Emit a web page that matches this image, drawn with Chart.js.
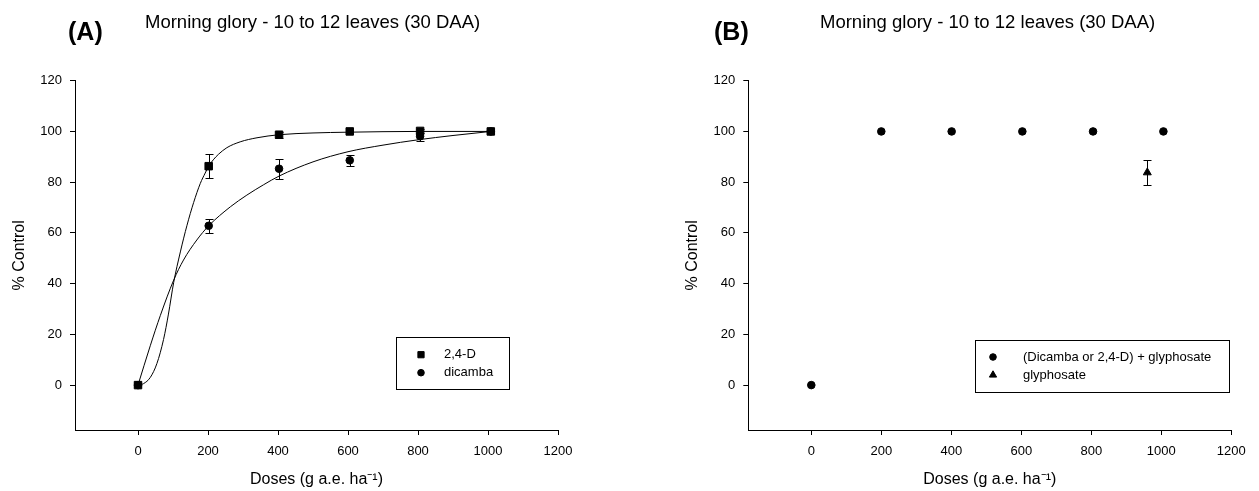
<!DOCTYPE html>
<html><head><meta charset="utf-8">
<script src="https://cdn.jsdelivr.net/npm/chart.js@4.4.1/dist/chart.umd.min.js"></script>
<style>
html,body{margin:0;padding:0;background:#fff;}
#wrap{position:relative;width:1259px;height:491px;overflow:hidden;font-family:'Liberation Sans',Arial,sans-serif;color:#000;}
.cv{position:absolute;top:0;}
.lab{position:absolute;font-weight:bold;font-size:25px;line-height:25px;white-space:nowrap;}
.ttl{position:absolute;font-size:18.5px;line-height:18.5px;white-space:nowrap;}
</style></head>
<body><div id="wrap">
<canvas id="cA" class="cv" width="630" height="491" style="left:0px"></canvas>
<canvas id="cB" class="cv" width="629" height="491" style="left:630px"></canvas>
<div id="labA" class="lab" style="left:68px;top:19.3px"></div>
<div id="ttlA" class="ttl" style="left:145px;top:12.6px"></div>
<div id="labB" class="lab" style="left:714px;top:19.3px"></div>
<div id="ttlB" class="ttl" style="left:820px;top:12.6px"></div>
</div>
<script>
// ---- data ----
const panelLabels = ['(A)', '(B)'];
const panelTitles = ['Morning glory - 10 to 12 leaves (30 DAA)', 'Morning glory - 10 to 12 leaves (30 DAA)'];
const xTitle = 'Doses (g a.e. ha\u207B\u00B9)';
const yTitle = '% Control';
const xTicks = [0, 200, 400, 600, 800, 1000, 1200];
const yTicks = [0, 20, 40, 60, 80, 100, 120];

// Panel A observed means and errors
const doses = [0, 202, 403, 605, 806, 1008];
const d24Mean = [0, 86.3, 98.7, 100, 100.2, 100];
const d24Err = [0, 4.7, 1.1, 0, 0.9, 0];
const dicMean = [0, 62.8, 85.3, 88.6, 98.1, 100];
const dicErr = [0, 2.8, 4.0, 2.3, 1.9, 0];

// Panel A fitted curves
const d24CurveX = [0, 16, 35, 54, 73, 87, 102, 121, 140, 159, 178, 192, 202, 215, 230, 254, 292, 340, 403, 500, 600, 700, 800, 900, 1008];
const d24CurveY = [0, 0.6, 3, 8.5, 18, 28, 40.5, 52.5, 63, 72, 79.5, 83.6, 86.3, 88.8, 91, 93.6, 95.9, 97.5, 98.7, 99.4, 99.7, 99.9, 100, 100, 100];
const dicCurveX = [0, 35, 64, 102, 130, 168, 202, 264, 311, 359, 403, 500, 600, 700, 800, 900, 1008];
const dicCurveY = [0, 15.5, 27.5, 41.4, 49.3, 57.2, 62.8, 70.3, 74.9, 79.0, 82.4, 88.0, 92.0, 94.6, 96.7, 98.4, 100];

// Panel B
const mixDoses = [0, 200, 401, 603, 805, 1006];
const mixMean = [0, 100, 100, 100, 100, 100];
const glyDoses = [960];
const glyMean = [83.8];
const glyErr = [4.8];

const seriesNames = ['2,4-D', 'dicamba', '(Dicamba or 2,4-D) + glyphosate', 'glyphosate'];

// ---- page text ----
document.getElementById('labA').textContent = panelLabels[0];
document.getElementById('labB').textContent = panelLabels[1];
document.getElementById('ttlA').textContent = panelTitles[0];
document.getElementById('ttlB').textContent = panelTitles[1];

const FAM = "'Liberation Sans', Arial, sans-serif";
Chart.defaults.font.family = FAM;
Chart.defaults.color = '#000';

const pts = (xs, ys) => xs.map((x, i) => ({x: x, y: ys[i]}));

const errorBars = {
  id: 'errorBars',
  beforeDatasetsDraw(chart) {
    const ctx = chart.ctx, xs = chart.scales.x, ys = chart.scales.y;
    ctx.save();
    ctx.strokeStyle = '#000';
    ctx.lineWidth = 1;
    chart.data.datasets.forEach(ds => {
      if (!ds.errors) return;
      ds.data.forEach((p, j) => {
        const e = ds.errors[j];
        if (!e) return;
        const px = Math.round(xs.getPixelForValue(p.x)) + 0.5;
        const y1 = Math.round(ys.getPixelForValue(p.y + e)) + 0.5;
        const y2 = Math.round(ys.getPixelForValue(p.y - e)) + 0.5;
        ctx.beginPath();
        ctx.moveTo(px, y1); ctx.lineTo(px, y2);
        ctx.moveTo(px - 4, y1); ctx.lineTo(px + 4, y1);
        ctx.moveTo(px - 4, y2); ctx.lineTo(px + 4, y2);
        ctx.stroke();
      });
    });
    ctx.restore();
  }
};

const boxLegend = {
  id: 'boxLegend',
  afterDraw(chart, args, o) {
    const ctx = chart.ctx;
    ctx.save();
    ctx.fillStyle = '#fff';
    ctx.fillRect(o.x, o.y, o.w, o.h);
    ctx.strokeStyle = '#000';
    ctx.lineWidth = 1;
    ctx.strokeRect(o.x + 0.5, o.y + 0.5, o.w, o.h);
    ctx.font = '13px ' + FAM;
    ctx.textBaseline = 'middle';
    ctx.textAlign = 'left';
    chart.data.datasets.filter(d => d.inLegend).forEach((d, k) => {
      const cy = o.y + o.firstRow + k * o.rowGap;
      ctx.fillStyle = '#000';
      ctx.strokeStyle = '#000';
      Chart.helpers.drawPoint(ctx, {pointStyle: d.pointStyle, radius: d.legendRadius, borderWidth: 1, rotation: 0}, o.x + o.markerDx, cy);
      ctx.fillStyle = '#000';
      ctx.fillText(d.label, o.x + o.textDx, cy);
    });
    ctx.restore();
  }
};

function curveDs(data) {
  return {data: data, showLine: true, borderColor: '#000', borderWidth: 1, pointRadius: 0,
          cubicInterpolationMode: 'monotone', fill: false, inLegend: false, order: 2};
}
function markDs(label, data, style, r, errs, lr) {
  return {label: label, data: data, showLine: false, pointStyle: style, pointRadius: r,
          pointBackgroundColor: '#000', pointBorderColor: '#000', pointBorderWidth: 1,
          errors: errs, inLegend: true, legendRadius: lr, order: 1};
}

function scalesCfg(yAxisWidth) {
  return {
    x: {
      type: 'linear', min: -180, max: 1200,
      afterBuildTicks: s => { s.ticks = xTicks.map(v => ({value: v})); },
      afterFit: s => { s.height = 59.6; },
      ticks: {font: {size: 13}, color: '#000', padding: 9, maxRotation: 0, autoSkip: false, callback: v => String(v)},
      grid: {drawOnChartArea: false, drawTicks: true, tickLength: 5, color: '#000', lineWidth: 1},
      border: {display: true, color: '#000', width: 1},
      title: {display: true, text: xTitle, font: {size: 16}, color: '#000', padding: {top: 0, bottom: 0}}
    },
    y: {
      type: 'linear', min: -17.7, max: 120,
      afterBuildTicks: s => { s.ticks = yTicks.map(v => ({value: v})); },
      afterFit: s => { s.width = yAxisWidth; },
      ticks: {font: {size: 13}, color: '#000', padding: 8, callback: v => String(v)},
      grid: {drawOnChartArea: false, drawTicks: true, tickLength: 5, color: '#000', lineWidth: 1},
      border: {display: true, color: '#000', width: 1},
      title: {display: true, text: yTitle, font: {size: 16}, color: '#000', padding: {top: 0, bottom: 0}}
    }
  };
}

new Chart(document.getElementById('cA'), {
  type: 'line',
  data: {datasets: [
    curveDs(pts(d24CurveX, d24CurveY)),
    curveDs(pts(dicCurveX, dicCurveY)),
    markDs(seriesNames[0], pts(doses, d24Mean), 'rect', 5.3, d24Err, 4.4),
    markDs(seriesNames[1], pts(doses, dicMean), 'circle', 3.8, dicErr, 3.3)
  ]},
  options: {
    responsive: false, animation: false, events: [],
    layout: {padding: {left: 10.4, top: 80.7, right: 72, bottom: 1.4}},
    scales: scalesCfg(64.6),
    plugins: {legend: {display: false}, tooltip: {enabled: false},
      boxLegend: {x: 396, y: 337, w: 113, h: 52, markerDx: 25, textDx: 48, firstRow: 17.7, rowGap: 18}}
  },
  plugins: [errorBars, boxLegend]
});

new Chart(document.getElementById('cB'), {
  type: 'line',
  data: {datasets: [
    markDs(seriesNames[2], pts(mixDoses, mixMean), 'circle', 3.8, null, 3.3),
    markDs(seriesNames[3], pts(glyDoses, glyMean), 'triangle', 4.6, glyErr, 4.2)
  ]},
  options: {
    responsive: false, animation: false, events: [],
    layout: {padding: {left: 53.4, top: 80.7, right: 27.7, bottom: 1.4}},
    scales: scalesCfg(64.9),
    plugins: {legend: {display: false}, tooltip: {enabled: false},
      boxLegend: {x: 345, y: 340, w: 254, h: 52, markerDx: 18, textDx: 48, firstRow: 17, rowGap: 18}}
  },
  plugins: [errorBars, boxLegend]
});
</script>
</body></html>
